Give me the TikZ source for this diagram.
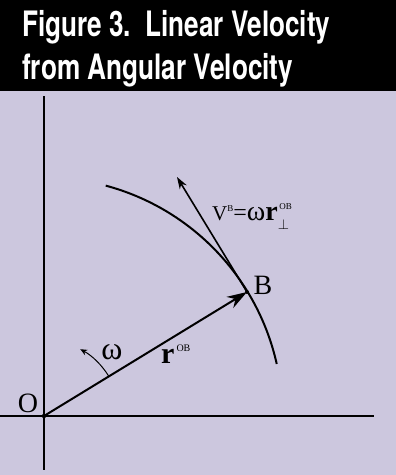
\documentclass[tikz,border=0pt]{standalone}
\usepackage{fontspec}
\setmainfont{Liberation Serif}
\newfontfamily\titlefont{TeX Gyre Heros}
\usetikzlibrary{arrows.meta}
\definecolor{bgpurple}{RGB}{204,199,222}
\tikzset{
  axisline/.style={line width=2pt},
  lbl/.style={inner sep=0pt},
  titletext/.style={inner sep=0pt, anchor=base west, text=white, font=\titlefont\bfseries\fontsize{35}{35}\selectfont},
}
\begin{document}
\begin{tikzpicture}[x=1pt,y=1pt]
\useasboundingbox (0,0) rectangle (396,475);
\fill[black] (0,384) rectangle (396,475);
\fill[bgpurple] (0,0) rectangle (396,384);
\node[titletext] (t1) at (22,438) {\resizebox{308pt}{\height}{Figure 3.\ \ Linear Velocity}};
\node[titletext] (t2) at (22,395) {\resizebox{271pt}{\height}{from Angular Velocity}};
% axes
\coordinate (O) at (44,59);
\coordinate (ytop) at (44,379);
\coordinate (ybot) at (44,5);
\coordinate (xl) at (0,59);
\coordinate (xr) at (374,59);
\draw[axisline] (ybot) -- (ytop);
\draw[axisline] (xl) -- (xr);
\fill (O) circle (2.2pt);
% big arc
\draw[line width=2pt] (O) ++(75:238.5) arc[start angle=75, end angle=12.6, radius=238.5];
% r vector
\coordinate (B) at (247,183);
\draw[line width=2pt, -{Stealth[length=20pt,width=13pt]}] (O) -- (B);
\fill (B) circle (2pt);
% tangent velocity
\coordinate (T) at (177,298);
\draw[line width=1.6pt, -{Stealth[length=12pt,width=8pt]}] (B) -- (T);
% omega arc
\draw[line width=1pt, -{Stealth[length=7pt,width=6pt]}] (O) ++(31.4:76) arc[start angle=31.4, end angle=61.5, radius=76];
% labels
\node[lbl, font=\fontsize{28}{28}\selectfont] (Olab) at (28,72) {O};
\node[lbl, font=\fontsize{28}{28}\selectfont] (Blab) at (263,190) {B};
\node[lbl, font=\fontsize{32}{32}\selectfont] (wlab) at (112,123) {ω};
\node[lbl, anchor=base west] (rlab) at (161,111) {\fontsize{30}{30}\selectfont\textbf{r}\kern2pt\raisebox{12pt}{\fontsize{10}{10}\selectfont OB}};
\node[lbl, anchor=base west] (vlab) at (212,254) {\fontsize{21}{21}\selectfont V\raisebox{9pt}{\fontsize{9}{9}\selectfont B}\fontsize{24}{24}\selectfont=\fontsize{28}{28}\selectfont ω\textbf{r}\rlap{\raisebox{11pt}{\fontsize{9}{9}\selectfont\,OB}}\raisebox{-8pt}{\fontsize{15}{15}\selectfont$\perp$}\phantom{\fontsize{9}{9}\selectfont O}};
\end{tikzpicture}
\end{document}
